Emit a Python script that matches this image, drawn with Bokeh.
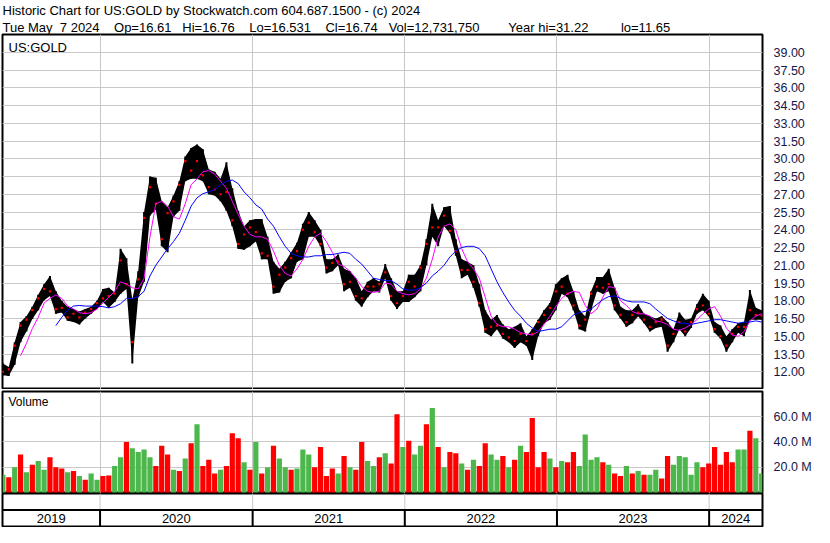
import numpy as np
import pandas as pd
from bokeh.plotting import figure
from bokeh.models import Range1d, FixedTicker, Title, Label, PrintfTickFormatter, Span
from bokeh.layouts import column
from bokeh.embed import file_html
from bokeh.resources import INLINE
from bokeh.core.properties import value

NA = np.nan

# ---------------- data ----------------
chart_start = "2019-05-12"
chart_end = "2024-05-08"
sample_dates = pd.date_range("2019-05-13", "2024-05-06", periods=130)

price_high = [
    12.7, 12.4, 14.5, 16.2, 16.7, 17.5, 18.5, 19.4, 20.1, 18.8,
    18.0, 17.5, 17.3, 17.1, 17.3, 17.5, 18.0, 19.0, 19.1, 18.7,
    22.4, 21.6, 18.1, 20.5, 25.5, 28.5, 28.4, 26.4, 25.9, 26.9,
    28.1, 30.2, 30.9, 31.2, 30.8, 29.1, 28.9, 28.3, 29.7, 27.5,
    25.6, 24.3, 24.8, 24.9, 24.9, 23.4, 21.3, 20.7, 21.3, 22.1,
    22.9, 24.5, 25.5, 24.8, 24.0, 21.5, 21.5, 21.9, 20.7, 20.5,
    19.9, 18.8, 19.6, 19.9, 19.6, 21.1, 19.9, 18.8, 18.8, 20.2,
    20.2, 21.0, 23.2, 26.2, 24.8, 25.9, 26.0, 23.2, 21.5, 21.3,
    21.0, 19.4, 17.2, 16.4, 16.8, 16.0, 15.6, 15.8, 16.1, 15.0,
    15.6, 16.4, 17.2, 17.8, 19.4, 19.9, 20.2, 18.8, 17.2, 16.7,
    18.8, 20.0, 20.0, 20.7, 19.1, 17.5, 17.2, 17.2, 17.7, 16.9,
    16.7, 16.5, 16.7, 16.2, 15.6, 17.0, 16.4, 16.5, 17.7, 18.6,
    18.0, 16.2, 15.9, 15.0, 15.6, 16.1, 16.2, 18.9, 17.4, 17.2,
]
price_low = [
    11.7, 11.65, 12.6, 14.5, 15.4, 16.45, 17.2, 18.05, 18.4, 16.9,
    17.0, 16.3, 16.2, 16.0, 16.5, 16.9, 17.3, 17.9, 17.4, 17.9,
    18.6, 19.0, 12.7, 18.3, 19.6, 25.2, 25.7, 22.6, 22.1, 25.1,
    25.6, 28.1, 28.3, 28.3, 28.1, 27.0, 26.9, 26.4, 25.6, 24.3,
    22.4, 22.3, 22.6, 23.0, 21.5, 21.5, 18.6, 18.7, 19.6, 19.9,
    21.3, 21.5, 23.4, 23.4, 22.6, 20.3, 20.5, 21.0, 18.8, 19.1,
    18.0, 17.5, 18.3, 18.8, 18.7, 19.9, 18.0, 17.3, 17.9, 17.9,
    18.3, 18.8, 21.0, 23.4, 22.6, 24.3, 23.7, 21.8, 19.9, 20.2,
    19.1, 17.5, 15.3, 15.0, 15.6, 14.8, 14.5, 14.0, 14.5, 14.2,
    13.0, 15.0, 16.1, 16.4, 17.2, 18.6, 18.3, 17.2, 15.6, 15.4,
    17.2, 18.8, 18.6, 18.8, 17.2, 16.5, 15.8, 16.1, 16.7, 16.1,
    15.4, 15.7, 15.8, 13.7, 14.5, 15.6, 15.0, 15.7, 16.9, 17.2,
    16.7, 15.3, 14.8, 13.7, 14.5, 15.3, 15.0, 16.4, 16.4, 16.4,
]
price_close = [
    12.0, 12.2, 14.2, 15.9, 16.4, 17.2, 18.2, 19.0, 18.8, 17.3,
    17.4, 16.6, 16.9, 16.6, 17.0, 17.3, 17.8, 18.2, 18.4, 18.6,
    21.4, 19.4, 14.5, 19.8, 25.0, 27.6, 26.2, 23.2, 25.4, 26.4,
    27.8, 29.8, 29.0, 29.8, 28.6, 27.6, 27.4, 27.0, 27.2, 24.8,
    22.8, 23.6, 24.2, 23.8, 22.0, 21.8, 19.2, 20.2, 20.8, 21.6,
    22.2, 24.0, 24.6, 23.8, 22.8, 20.8, 21.2, 21.3, 19.4, 19.6,
    18.4, 18.2, 19.2, 19.2, 19.4, 20.4, 18.4, 17.8, 18.4, 19.6,
    19.2, 20.8, 22.8, 24.2, 24.2, 25.2, 23.9, 22.2, 20.6, 20.6,
    19.6, 17.8, 15.6, 15.8, 15.9, 15.2, 14.9, 14.6, 15.2, 14.6,
    15.2, 16.2, 16.8, 17.4, 18.8, 19.2, 18.6, 17.6, 15.9, 16.4,
    18.6, 19.2, 19.1, 19.4, 17.6, 16.8, 16.2, 16.8, 17.0, 16.4,
    15.8, 16.2, 16.4, 14.2, 15.2, 16.2, 15.4, 16.2, 17.3, 17.6,
    16.9, 15.6, 15.0, 14.2, 15.2, 15.8, 15.8, 17.2, 16.8, 16.74,
]
ma_short = [
    NA, NA, NA, 13.35, 14.4, 15.65, 16.6, 17.8, 18.2, 18.5,
    18.2, 17.55, 17.3, 17.0, 16.9, 17.0, 17.3, 17.8, 18.3, 18.8,
    19.6, 19.4, 19.1, 19.0, 19.9, 23.4, 26.2, 26.4, 26.0, 25.1,
    24.9, 26.2, 27.8, 28.3, 28.9, 29.0, 28.7, 28.1, 27.5, 26.4,
    25.3, 24.3, 23.6, 23.4, 23.4, 23.2, 22.2, 21.0, 20.3, 20.1,
    20.7, 21.5, 22.6, 23.4, 23.7, 23.0, 22.1, 21.1, 20.9, 20.5,
    19.9, 19.2, 18.8, 18.7, 18.8, 19.5, 19.4, 18.8, 18.6, 18.5,
    18.6, 19.0, 19.9, 21.5, 23.4, 24.3, 24.5, 24.0, 22.4, 21.3,
    20.7, 19.9, 18.3, 16.7, 16.0, 15.8, 15.8, 15.6, 15.3, 15.2,
    15.1, 15.4, 16.0, 16.7, 17.5, 18.2, 18.6, 18.8, 18.7, 17.6,
    16.9, 17.3, 18.3, 19.2, 19.1, 18.0, 17.6, 17.1, 16.9, 16.9,
    16.7, 16.3, 16.2, 16.0, 15.6, 15.5, 15.7, 16.0, 16.4, 16.9,
    17.3, 17.5, 16.7, 15.7, 15.1, 15.0, 15.4, 16.3, 16.7, 16.9,
]
ma_long = [
    NA, NA, NA, NA, NA, NA, NA, NA, NA, 15.9,
    16.6, 17.2, 17.55, 17.6, 17.55, 17.55, 17.55, 17.5, 17.4, 17.5,
    17.75, 18.2, 18.2, 18.35, 18.8, 20.1, 21.0, 21.7, 22.4, 23.0,
    23.7, 24.8, 26.0, 26.7, 27.05, 27.2, 27.4, 27.8, 28.1, 28.2,
    27.9, 27.2, 26.7, 26.1, 25.75, 24.9, 24.3, 23.4, 22.6, 22.0,
    21.8, 21.7, 21.7, 21.8, 21.8, 21.9, 21.9, 22.0, 22.1, 22.0,
    21.5, 21.1, 20.5, 19.9, 19.8, 19.7, 19.7, 19.4, 19.0, 18.9,
    18.9, 19.1, 19.5, 20.1, 20.5, 21.0, 21.7, 22.2, 22.5, 22.6,
    22.6, 22.4, 21.8, 20.7, 19.6, 18.7, 17.9, 17.2, 16.7, 16.1,
    15.7, 15.4, 15.5, 15.6, 15.6, 15.8, 16.3, 16.8, 17.0, 17.1,
    17.3, 17.7, 18.1, 18.35, 18.4, 18.2, 18.0, 17.9, 17.9, 17.9,
    17.75, 17.3, 16.9, 16.5, 16.3, 16.1, 16.1, 16.0, 16.1, 16.2,
    16.3, 16.4, 16.4, 16.3, 16.2, 16.1, 16.2, 16.2, 16.3, 16.2,
]
volume_m = [
    14, 12, 20, 30, 16, 22, 25, 18, 28, 20,
    19, 16, 17, 13, 10, 15, 10, 13, 13.5, 21,
    28, 40, 35, 32, 34, 28, 21, 37, 30, 18,
    17, 27, 39, 54, 21, 26, 15, 18, 21, 47,
    43, 24, 18, 40, 15, 20, 37, 27, 20, 18,
    19, 34, 30, 20, 36, 13, 19, 15, 29, 20,
    18, 40, 25, 21, 28, 31, 23, 62, 36, 41,
    30, 37, 54, 67, 36, 20, 32, 31, 23, 18,
    26, 21, 39, 30, 26, 29, 20, 26, 37, 32,
    59, 20, 32, 27, 20, 25, 24, 32, 21, 46,
    26, 28, 24, 22, 15, 13, 21, 15, 17, 14,
    14, 18, 11, 29, 22, 29, 28, 14, 24, 20,
    23, 36, 22, 32, 24, 34, 34, 49, 43, 15,
]
volume_dir = [
    "g", "r", "g", "r", "g", "r", "g", "g", "r", "r",
    "r", "g", "r", "g", "r", "g", "g", "r", "r", "g",
    "g", "r", "g", "g", "g", "g", "r", "r", "r", "g",
    "r", "g", "r", "g", "r", "r", "r", "g", "r", "r",
    "r", "g", "r", "g", "r", "g", "r", "g", "g", "r",
    "g", "g", "g", "r", "r", "r", "r", "g", "r", "g",
    "r", "r", "g", "g", "r", "g", "r", "r", "g", "r",
    "g", "g", "r", "g", "r", "g", "r", "r", "g", "r",
    "g", "r", "r", "g", "g", "r", "g", "r", "g", "r",
    "r", "r", "r", "g", "r", "g", "r", "r", "g", "g",
    "g", "g", "r", "g", "r", "r", "g", "r", "g", "r",
    "g", "g", "r", "r", "g", "g", "g", "g", "g", "r",
    "r", "r", "r", "r", "r", "g", "g", "r", "g", "g",
]
year_starts = ["2020-01-01", "2021-01-01", "2022-01-01", "2023-01-01", "2024-01-01"]
year_labels = ["2019", "2020", "2021", "2022", "2023", "2024"]
price_ticks = [12.0, 13.5, 15.0, 16.5, 18.0, 19.5, 21.0, 22.5, 24.0, 25.5,
               27.0, 28.5, 30.0, 31.5, 33.0, 34.5, 36.0, 37.5, 39.0]
volume_ticks = [20, 40, 60]

header_1 = "Historic Chart for US:GOLD by Stockwatch.com 604.687.1500 - (c) 2024"
header_2_fields = ["Tue May\u00a0 7 2024", "Op=16.61", "Hi=16.76", "Lo=16.531",
                   "Cl=16.74", "Vol=12,731,750", "Year hi=31.22", "lo=11.65"]
header_2_gaps = [4, 3, 4, 4, 3, 8, 9]

# ---------------- helpers ----------------
def ms(d):
    return pd.Timestamp(d).value / 1e6

def spaced(fields, gaps):
    out = fields[0]
    for g, f in zip(gaps, fields[1:]):
        out += " " + "\u00a0" * (g - 1) + f
    return out

header_2 = spaced(header_2_fields, header_2_gaps)

DAY = 86400000.0
FONT = "Liberation Sans"
AXC = "#16164a"
GRID = "#c8c8c8"
W = 814
RB = 50
RED = "#ff0000"
GREEN = "#4cb84c"

x0, x1 = ms(chart_start), ms(chart_end)
year_ms = [ms(d) for d in year_starts]
xs = [ms(d) for d in sample_dates]
vol_colors = [GREEN if d == "g" else RED for d in volume_dir]

figs = []

def base(height, yr, top=0, bottom=0, right_axis=True):
    f = figure(width=W, height=height, x_range=Range1d(x0, x1) if not figs else figs[0].x_range,
               y_range=yr, x_axis_location=None,
               y_axis_location="right" if right_axis else None,
               output_backend="svg", toolbar_location=None,
               min_border_left=2, min_border_right=RB,
               min_border_top=top, min_border_bottom=bottom)
    f.outline_line_color = "black"
    f.outline_line_width = 2
    f.background_fill_color = "white"
    f.border_fill_color = "white"
    return f

# ---------------- price panel ----------------
p1 = base(389, Range1d(10.5, 40.5), top=0)
figs.append(p1)
p1.add_layout(Title(text=header_2, align="left", text_font=FONT, text_font_size="13px",
                    text_font_style="normal", text_color="black", standoff=0,
                    text_line_height=1.0), "above")
p1.add_layout(Title(text=header_1, align="left", text_font=FONT, text_font_size="13px",
                    text_font_style="normal", text_color="black", standoff=0,
                    text_line_height=1.0), "above")
p1.yaxis.ticker = FixedTicker(ticks=price_ticks)
p1.yaxis.formatter = PrintfTickFormatter(format="%.2f")
p1.ygrid.ticker = FixedTicker(ticks=price_ticks)
p1.xgrid.ticker = FixedTicker(ticks=year_ms)
for g in (p1.xgrid, p1.ygrid):
    g.grid_line_color = GRID
    g.grid_line_width = 1

# price range band (high/low) with per-sample range strokes and close dots
p1.varea(x=xs, y1=price_low, y2=price_high, fill_color="black")
p1.segment(x0=xs, y0=price_low, x1=xs, y1=price_high, line_color="black", line_width=2)
p1.scatter(x=xs, y=price_close, marker="square", size=2.2, color=RED, line_color=None)
p1.line(xs, ma_short, line_color="#ff00ff", line_width=1)
p1.line(xs, ma_long, line_color="#0000ff", line_width=1)
p1.add_layout(Label(x=x0, y=40.05, x_offset=6, text="US:GOLD", text_baseline="top",
                    text_font=FONT, text_font_size="13px", text_color="black"))

# ---------------- volume panel ----------------
p2 = base(104, Range1d(-0.8, 80), top=2)
figs.append(p2)
p2.yaxis.ticker = FixedTicker(ticks=volume_ticks)
p2.yaxis.formatter = PrintfTickFormatter(format="%.1f M")
p2.ygrid.ticker = FixedTicker(ticks=volume_ticks)
p2.xgrid.ticker = FixedTicker(ticks=year_ms)
for g in (p2.xgrid, p2.ygrid):
    g.grid_line_color = GRID
    g.grid_line_width = 1
p2.vbar(x=xs, top=volume_m, bottom=0, width=12.5 * DAY, fill_color=vol_colors, line_color=None)
p2.add_layout(Label(x=x0, y=77.5, x_offset=6, text="Volume", text_baseline="top",
                    text_font=FONT, text_font_size="12px", text_color="black"))

for f in (p1, p2):
    ax = f.yaxis[0]
    ax.axis_line_color = None
    ax.major_tick_line_color = None
    ax.minor_tick_line_color = None
    ax.major_label_standoff = 5
    ax.major_label_text_font = FONT
    ax.major_label_text_font_size = "12.5px"
    ax.major_label_text_color = AXC

# ---------------- date strip ----------------
p3 = base(34, Range1d(0, 2), top=0, bottom=1, right_axis=False)
figs.append(p3)
p3.xgrid.visible = False
p3.ygrid.visible = False
p3.add_layout(Span(location=1, dimension="width", line_color="black", line_width=2))
p3.segment(x0=year_ms, y0=[1] * len(year_ms), x1=year_ms, y1=[2] * len(year_ms),
           line_color=GRID, line_width=1)
p3.segment(x0=year_ms, y0=[0] * len(year_ms), x1=year_ms, y1=[1] * len(year_ms),
           line_color="black", line_width=2)
edges = [x0] + year_ms + [x1]
centers = [(a + b) / 2 for a, b in zip(edges[:-1], edges[1:])]
p3.text(x=centers, y=[0.5] * len(centers), text=year_labels, text_align="center",
        text_baseline="middle", text_font=value(FONT), text_font_size="13px",
        text_color="black")

layout = column(p1, p2, p3, spacing=0)
open("out.html", "w").write(file_html(layout, INLINE))
